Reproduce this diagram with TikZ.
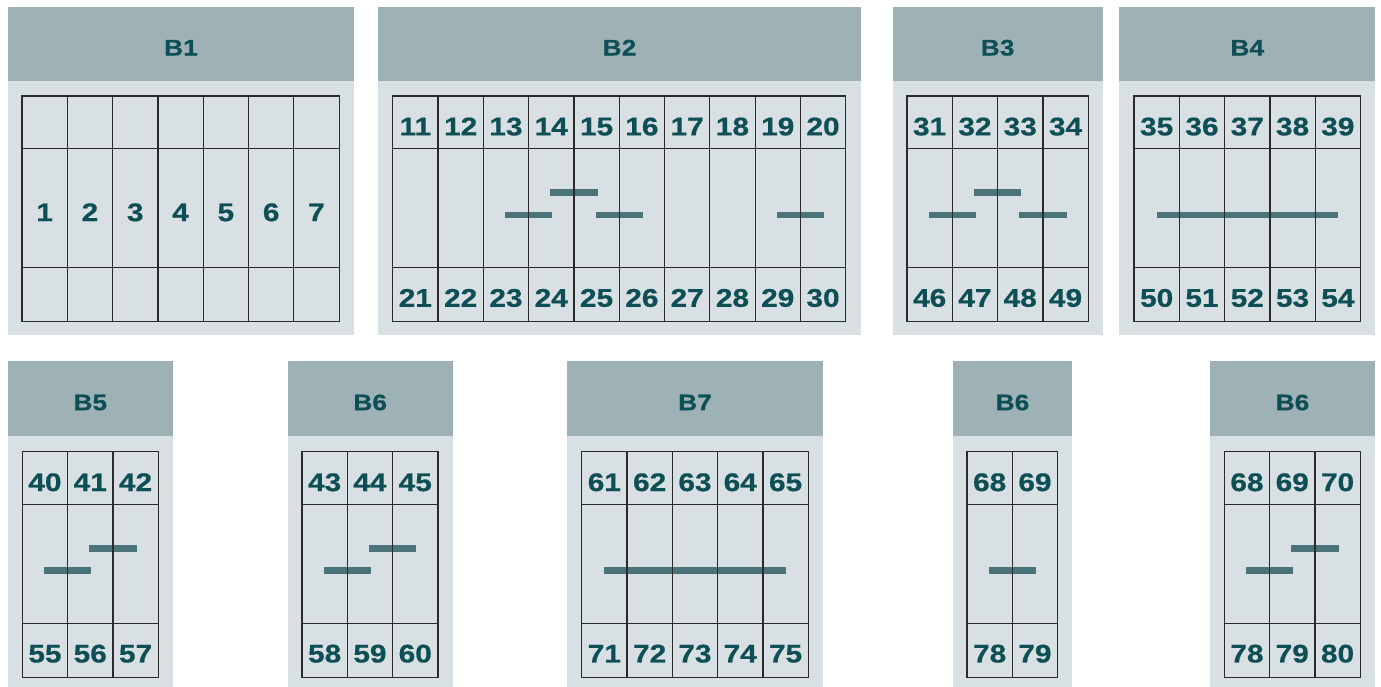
\documentclass[tikz,border=0pt]{standalone}
\usepackage{fontspec}
\setmainfont{Liberation Sans}[FakeStretch=1.17, BoldFeatures={FakeBold=0.6}]
\usetikzlibrary{positioning,backgrounds}
\definecolor{headc}{HTML}{9EB2B6}
\definecolor{bodyc}{HTML}{D9E0E3}
\definecolor{numc}{HTML}{0D4F55}
\definecolor{barc}{HTML}{4A747A}
\definecolor{gridc}{HTML}{2B2B2B}

\begin{document}
\begin{tikzpicture}[x=1pt, y=-1pt,
  body/.style={fill=bodyc, anchor=north west, minimum height=253.5pt, inner sep=0, outer sep=0},
  head/.style={fill=headc, minimum height=74.5pt, inner sep=0, outer sep=0, text=numc,
    font=\fontsize{22.5}{25}\selectfont\bfseries, text height=23.5pt, text depth=0pt},
  cell/.style={draw=gridc, line width=1.2pt, minimum width=45.3pt, inner sep=0, outer sep=0, text=numc,
    font=\fontsize{25.5}{28}\selectfont\bfseries, text height=26.2pt, text depth=0pt},
  topc/.style={cell, minimum height=52.5pt},
  midc/.style={cell, minimum height=119pt, anchor=north},
  botc/.style={cell, minimum height=54pt, anchor=north, text height=24.5pt},
  bar/.style={draw=barc, line width=6.5pt},
  sbar/.style={bar, shorten <=-1pt, shorten >=-1pt}]
\useasboundingbox (0,0) rectangle (1381,686);

% panels
\begin{scope}[on background layer]
\node[body, minimum width=346pt] (p1) at (8,81) {};
\node[head, minimum width=346pt, above=0pt of p1] (h1) {B1};
\node[body, minimum width=482.4pt] (p2) at (378.3,81) {};
\node[head, minimum width=482.4pt, above=0pt of p2] (h2) {B2};
\node[body, minimum width=210pt] (p3) at (892.7,81) {};
\node[head, minimum width=210pt, above=0pt of p3] (h3) {B3};
\node[body, minimum width=256pt] (p4) at (1119.3,81) {};
\node[head, minimum width=256pt, above=0pt of p4] (h4) {B4};
\node[body, minimum width=164.7pt] (p5) at (8,435.7) {};
\node[head, minimum width=164.7pt, above=0pt of p5] (h5) {B5};
\node[body, minimum width=165pt] (p6) at (287.7,435.7) {};
\node[head, minimum width=165pt, above=0pt of p6] (h6) {B6};
\node[body, minimum width=255.5pt] (p7) at (567.3,435.7) {};
\node[head, minimum width=255.5pt, above=0pt of p7] (h7) {B7};
\node[body, minimum width=119.6pt] (p8) at (952.7,435.7) {};
\node[head, minimum width=119.6pt, above=0pt of p8] (h8) {B6};
\node[body, minimum width=165pt] (p9) at (1210,435.7) {};
\node[head, minimum width=165pt, above=0pt of p9] (h9) {B6};
\end{scope}

% B1
\foreach \n in {1,...,7} {
  \node[topc] (q1t\n) at (22+45.3*\n-22.65,122.25) {};
  \node[midc] (q1m\n) at (q1t\n.south) {\n};
  \node[botc] (q1b\n) at (q1m\n.south) {};
}
% B2
\foreach \u/\l [count=\i] in {11/21,12/22,13/23,14/24,15/25,16/26,17/27,18/28,19/29,20/30} {
  \node[topc] (q2t\i) at (392.7+45.3*\i-22.65,122.25) {\u};
  \node[midc] (q2m\i) at (q2t\i.south) {};
  \node[botc] (q2b\i) at (q2m\i.south) {\l};
}
% B3
\foreach \u/\l [count=\i] in {31/46,32/47,33/48,34/49} {
  \node[topc] (q3t\i) at (907+45.3*\i-22.65,122.25) {\u};
  \node[midc] (q3m\i) at (q3t\i.south) {};
  \node[botc] (q3b\i) at (q3m\i.south) {\l};
}
% B4
\foreach \u/\l [count=\i] in {35/50,36/51,37/52,38/53,39/54} {
  \node[topc] (q4t\i) at (1134+45.3*\i-22.65,122.25) {\u};
  \node[midc] (q4m\i) at (q4t\i.south) {};
  \node[botc] (q4b\i) at (q4m\i.south) {\l};
}
% B5
\foreach \u/\l [count=\i] in {40/55,41/56,42/57} {
  \node[topc] (q5t\i) at (22.3+45.3*\i-22.65,477.95) {\u};
  \node[midc] (q5m\i) at (q5t\i.south) {};
  \node[botc] (q5b\i) at (q5m\i.south) {\l};
}
% B6
\foreach \u/\l [count=\i] in {43/58,44/59,45/60} {
  \node[topc] (q6t\i) at (302+45.3*\i-22.65,477.95) {\u};
  \node[midc] (q6m\i) at (q6t\i.south) {};
  \node[botc] (q6b\i) at (q6m\i.south) {\l};
}
% B7
\foreach \u/\l [count=\i] in {61/71,62/72,63/73,64/74,65/75} {
  \node[topc] (q7t\i) at (581.7+45.3*\i-22.65,477.95) {\u};
  \node[midc] (q7m\i) at (q7t\i.south) {};
  \node[botc] (q7b\i) at (q7m\i.south) {\l};
}
% B6, two columns
\foreach \u/\l [count=\i] in {68/78,69/79} {
  \node[topc] (q8t\i) at (967+45.3*\i-22.65,477.95) {\u};
  \node[midc] (q8m\i) at (q8t\i.south) {};
  \node[botc] (q8b\i) at (q8m\i.south) {\l};
}
% B6, three columns
\foreach \u/\l [count=\i] in {68/78,69/79,70/80} {
  \node[topc] (q9t\i) at (1224.3+45.3*\i-22.65,477.95) {\u};
  \node[midc] (q9m\i) at (q9t\i.south) {};
  \node[botc] (q9b\i) at (q9m\i.south) {\l};
}

% bars
\begin{scope}[on background layer]
\draw[sbar] ([yshift=-7pt]q2m3.center) -- ([yshift=-7pt]q2m4.center);
\draw[sbar] ([yshift=15.3pt]q2m4.center) -- ([yshift=15.3pt]q2m5.center);
\draw[sbar] ([yshift=-7pt]q2m5.center) -- ([yshift=-7pt]q2m6.center);
\draw[sbar] ([yshift=-7pt]q2m9.center) -- ([yshift=-7pt]q2m10.center);
\draw[sbar] ([yshift=-7pt]q3m1.center) -- ([yshift=-7pt]q3m2.center);
\draw[sbar] ([yshift=15.3pt]q3m2.center) -- ([yshift=15.3pt]q3m3.center);
\draw[sbar] ([yshift=-7pt]q3m3.center) -- ([yshift=-7pt]q3m4.center);
\draw[bar] ([yshift=-7pt]q4m1.center) -- ([yshift=-7pt]q4m5.center);
\draw[sbar] ([yshift=-7pt]q5m1.center) -- ([yshift=-7pt]q5m2.center);
\draw[sbar] ([yshift=15.3pt]q5m2.center) -- ([yshift=15.3pt]q5m3.center);
\draw[sbar] ([yshift=-7pt]q6m1.center) -- ([yshift=-7pt]q6m2.center);
\draw[sbar] ([yshift=15.3pt]q6m2.center) -- ([yshift=15.3pt]q6m3.center);
\draw[bar] ([yshift=-7pt]q7m1.center) -- ([yshift=-7pt]q7m5.center);
\draw[sbar] ([yshift=-7pt]q8m1.center) -- ([yshift=-7pt]q8m2.center);
\draw[sbar] ([yshift=-7pt]q9m1.center) -- ([yshift=-7pt]q9m2.center);
\draw[sbar] ([yshift=15.3pt]q9m2.center) -- ([yshift=15.3pt]q9m3.center);
\end{scope}
\end{tikzpicture}
\end{document}
